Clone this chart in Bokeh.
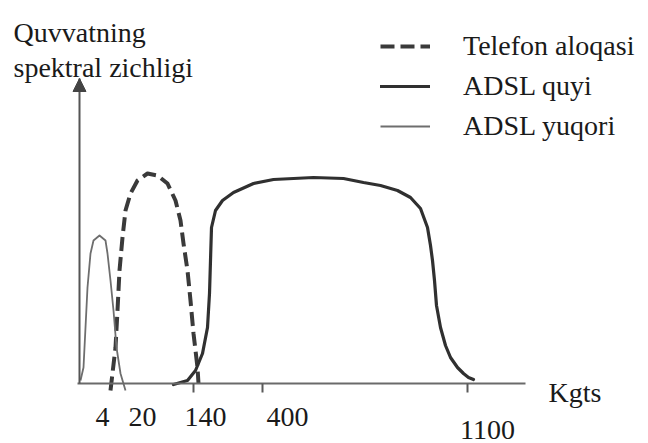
from bokeh.plotting import figure
from bokeh.models import Range1d, Label, Arrow, NormalHead, FixedTicker
from bokeh.embed import file_html
from bokeh.resources import INLINE

# ---- data (schematic units: x = frequency position along axis, y = power density) ----
tel_x = [31, 36, 38, 40, 43, 46, 51, 58, 68, 78, 88, 96, 101, 104, 108, 111, 114, 118, 119]
tel_y = [-7, 36, 73, 113, 146, 173, 190, 203, 210, 208, 200, 183, 163, 140, 113, 83, 50, 16, 0]

down_x = [94, 108, 116, 123, 128, 130, 131, 132, 136, 143, 154, 174, 194, 234, 264, 284, 301,
          318, 331, 341, 348, 351, 353, 355, 357, 361, 366, 371, 378, 384, 389, 394]
down_y = [-1, 3, 13, 30, 56, 90, 123, 156, 173, 183, 191, 200, 204, 206, 205, 201, 198,
          193, 186, 175, 156, 138, 123, 103, 78, 56, 38, 26, 16, 10, 6, 4]

up_x = [1, 4, 6, 8, 11, 14, 20, 26, 28, 31, 34, 37, 41, 46]
up_y = [3, 16, 56, 96, 130, 143, 148, 143, 130, 103, 73, 36, 10, -7]

tick_marks = [114, 183, 388]
tick_labels = ["4", "20", "140", "400", "1100"]
tick_label_pos = [23, 63, 126, 208, 408]

series_names = ["Telefon aloqasi", "ADSL quyi", "ADSL yuqori"]
y_title = ["Quvvatning", "spektral zichligi"]
x_title = "Kgts"

# ---- layout ----
FONT = "Liberation Serif"
FS = "28px"
TXT = "#1a1a1a"
tick_label_y = [-33, -33, -33, -33, -46]

p = figure(width=648, height=443, output_backend="svg", toolbar_location=None,
           x_range=Range1d(-79, 569), y_range=Range1d(-60, 383),
           min_border=0)
p.grid.visible = False
p.outline_line_color = None
p.background_fill_color = "white"

# axes
xa = p.xaxis[0]
xa.fixed_location = 0
xa.bounds = (-2, 446)
xa.ticker = FixedTicker(ticks=tick_marks)
xa.major_label_text_alpha = 0
xa.major_label_text_font_size = "1px"
xa.major_tick_in = 0
xa.major_tick_out = 9
xa.minor_tick_line_color = None
xa.axis_line_color = "#6a6a6a"
xa.axis_line_width = 2
xa.major_tick_line_color = "#5a5a5a"
xa.major_tick_line_width = 2

ya = p.yaxis[0]
ya.fixed_location = 0
ya.bounds = (0, 305)
ya.ticker = FixedTicker(ticks=[])
ya.major_label_text_alpha = 0
ya.major_label_text_font_size = "1px"
ya.minor_tick_line_color = None
ya.major_tick_line_color = None
ya.axis_line_color = "#555555"
ya.axis_line_width = 2

p.add_layout(Arrow(end=NormalHead(size=13, fill_color="#444444", line_color="#444444"),
                   line_alpha=0, x_start=0, y_start=280, x_end=0, y_end=305))

# curves
p.line(tel_x, tel_y, line_color="#3a3a3a", line_width=4, line_dash="14 6",
       line_join="round", legend_label=series_names[0])
p.line(down_x, down_y, line_color="#303030", line_width=3.2,
       line_join="round", line_cap="round", legend_label=series_names[1])
p.line(up_x, up_y, line_color="#6e6e6e", line_width=1.8,
       line_join="round", legend_label=series_names[2])

lg = p.legend[0]
lg.location = (380, 300)
lg.background_fill_alpha = 0
lg.border_line_alpha = 0
lg.padding = 0
lg.margin = 0
lg.spacing = 6
lg.glyph_height = 34
lg.glyph_width = 50
lg.label_height = 34
lg.label_standoff = 33
lg.label_text_font = FONT
lg.label_text_font_size = FS
lg.label_text_color = TXT

# tick labels
for t, xp, yp in zip(tick_labels, tick_label_pos, tick_label_y):
    p.add_layout(Label(x=xp, y=yp, text=t, text_align="center", text_baseline="middle",
                       text_font=FONT, text_font_size=FS, text_color=TXT))

# axis titles
p.add_layout(Label(x=469, y=-9, text=x_title, text_align="left", text_baseline="alphabetic",
                   text_font=FONT, text_font_size=FS, text_color=TXT))
p.add_layout(Label(x=-66, y=351, text=y_title[0], text_align="left", text_baseline="alphabetic",
                   text_font=FONT, text_font_size=FS, text_color=TXT))
p.add_layout(Label(x=-66, y=316, text=y_title[1], text_align="left", text_baseline="alphabetic",
                   text_font=FONT, text_font_size=FS, text_color=TXT))

open("out.html", "w").write(file_html(p, INLINE))
